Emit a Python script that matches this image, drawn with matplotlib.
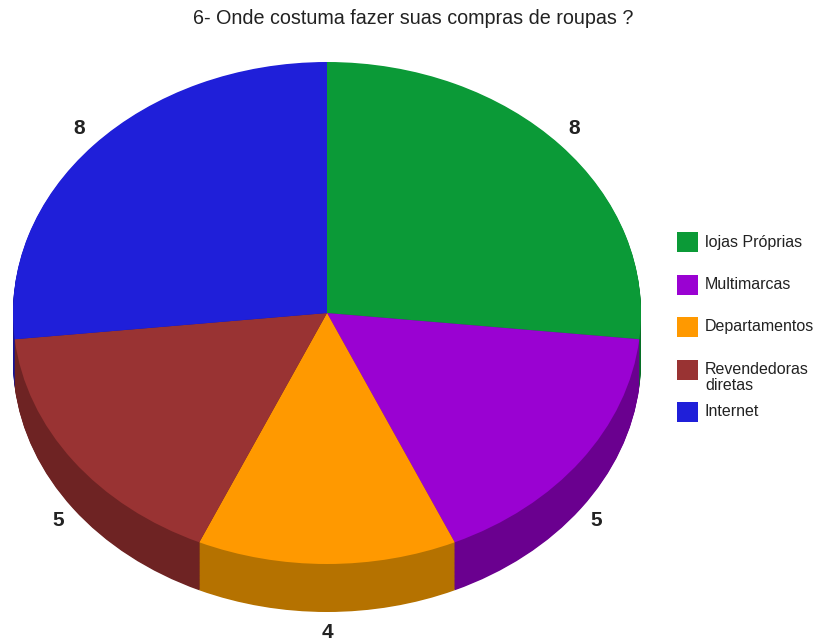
import matplotlib
matplotlib.use('Agg')
import matplotlib.pyplot as plt
from matplotlib.patches import Rectangle
import numpy as np

plt.rcParams['font.family'] = ['Liberation Sans', 'DejaVu Sans']

# respostas da pergunta 6
categorias = ['lojas Próprias', 'Multimarcas', 'Departamentos', 'Revendedoras\ndiretas', 'Internet']
valores = [8, 5, 4, 5, 8]
cores = ['#0b9a37', '#9a02d2', '#ff9900', '#993333', '#1f1fd9']
cores_lado = ['#067026', '#6a008f', '#b57200', '#6e2323', '#14149a']

W, H = 816, 643
fig = plt.figure(figsize=(W / 100, H / 100), dpi=100)

# eixo em unidades da elipse: 1 em x = 314 px, 1 em y = 251 px, centro em (327, 313)
cx, cy, rx, ry = 327, 313, 314, 251
prof = 48 / ry
ax = fig.add_axes([0, 0, 1, 1])

# parede lateral: varias camadas escuras empilhadas
for t in np.linspace(1, 0, 60)[:-1]:
    ax.pie(valores, colors=cores_lado, startangle=90, counterclock=False,
           center=(0, -prof * t), radius=1, wedgeprops=dict(linewidth=0))
# tampa
wedges, _ = ax.pie(valores, colors=cores, startangle=90, counterclock=False,
                   center=(0, 0), radius=1, wedgeprops=dict(linewidth=0))

ax.set_aspect('auto')
ax.set_xlim(-cx / rx, (W - cx) / rx)
ax.set_ylim(-(H - cy) / ry, cy / ry)
ax.axis('off')

# rotulos com os valores
for w, v in zip(wedges, valores):
    ang = np.deg2rad((w.theta1 + w.theta2) / 2)
    x = 1.06 * np.cos(ang)
    if np.sin(ang) < 0:
        y = 1.08 * np.sin(ang) - prof
    else:
        y = 1.1 * np.sin(ang)
    ax.text(x, y, str(v), ha='center', va='center', fontsize=15,
            fontweight='bold', color='#222222')

fig.text(413 / W, 1 - 18 / H, '6- Onde costuma fazer suas compras de roupas ?',
         ha='center', va='center', fontsize=14.2, color='#222222')

# legenda
ys = [242, 285, 327, 370, 412]
for nome, cor, yy in zip(categorias, cores, ys):
    fig.add_artist(Rectangle((677 / W, 1 - (yy + 10) / H), 21 / W, 20 / H,
                             transform=fig.transFigure, color=cor, lw=0))
    linhas = nome.split('\n')
    for i, ln in enumerate(linhas):
        fig.text(705 / W, 1 - (yy + i * 15) / H, ln, ha='left', va='center',
                 fontsize=11.5, color='#222222')

fig.savefig('out.png', dpi=100)
